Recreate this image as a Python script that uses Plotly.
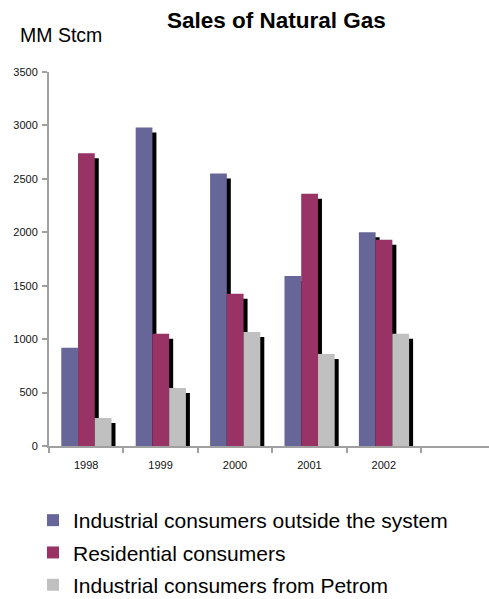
import plotly.graph_objects as go

# Sales of natural gas, MM Stcm
years = ["1998", "1999", "2000", "2001", "2002"]
industrial_outside = [920, 2980, 2550, 1590, 2000]
residential = [2740, 1050, 1425, 2360, 1930]
industrial_petrom = [262, 543, 1068, 862, 1050]

series_names = [
    "Industrial consumers outside the system",
    "Residential consumers",
    "Industrial consumers from Petrom",
]
series_values = [industrial_outside, residential, industrial_petrom]
series_colors = ["#666699", "#993366", "#C0C0C0"]

# figure geometry (px)
W, H = 489, 599
ML, MR, MT, MB = 49, 0, 72, 153
PLOT_W = W - ML - MR
PLOT_H = H - MT - MB
CAT_PX = 74.4          # width of one category slot
Y_MAX = 3500

x_hi = -0.5 + PLOT_W / CAT_PX
units_per_px_y = Y_MAX / PLOT_H

# bar placement inside each category slot (category units)
bar_offsets = [-0.335, -0.11, 0.115]
bar_width = 0.225

# drop shadow: shifted right and down by a few pixels
SHADOW_DX = 4 / CAT_PX
SHADOW_DY = 5 * units_per_px_y

xs = list(range(len(years)))

fig = go.Figure()
for name, vals, color, off in zip(series_names, series_values, series_colors, bar_offsets):
    fig.add_trace(go.Bar(
        x=xs, y=[v - SHADOW_DY for v in vals],
        offset=off + SHADOW_DX, width=bar_width,
        marker=dict(color="#000000", line=dict(width=0)),
        showlegend=False, legendgroup=name, hoverinfo="skip",
    ))
    fig.add_trace(go.Bar(
        x=xs, y=vals, name=name,
        offset=off, width=bar_width,
        marker=dict(color=color, line=dict(width=0)),
        legendgroup=name,
    ))

axis_gray = "#A0A0A0"
fig.update_layout(
    width=W, height=H,
    margin=dict(l=ML, r=MR, t=MT, b=MB, pad=0, autoexpand=False),
    barmode="overlay",
    plot_bgcolor="white", paper_bgcolor="white",
    font=dict(family="Liberation Sans, Arial, sans-serif", color="#000000"),
    xaxis=dict(
        range=[-0.5, x_hi], tickmode="array", tickvals=xs, ticktext=years,
        ticks="", showgrid=False, zeroline=False,
        showline=True, linecolor=axis_gray, linewidth=2,
        tickfont=dict(size=11, color="#111111"), ticklabelstandoff=8,
        minor=dict(tickmode="array", tickvals=[i - 0.5 for i in range(len(years) + 1)],
                   ticks="outside", ticklen=5, tickwidth=1.5, tickcolor=axis_gray),
        fixedrange=True,
    ),
    yaxis=dict(
        range=[0, Y_MAX], dtick=500, tick0=0,
        ticks="outside", ticklen=5, tickwidth=1.5, tickcolor=axis_gray,
        showgrid=False, zeroline=False,
        showline=True, linecolor=axis_gray, linewidth=2,
        tickfont=dict(size=11, color="#111111"), ticklabelstandoff=2,
        fixedrange=True,
    ),
    legend=dict(
        xref="container", yref="container",
        x=33 / W, xanchor="left", y=1 - 500 / H, yanchor="top",
        font=dict(size=21, color="#000000"),
        tracegroupgap=2, bgcolor="rgba(0,0,0,0)",
    ),
    annotations=[
        dict(text="<b>Sales of Natural Gas</b>", xref="paper", yref="paper",
             x=(276.5 - ML) / PLOT_W, y=1 + (MT - 20.5) / PLOT_H,
             xanchor="center", yanchor="middle", showarrow=False,
             font=dict(size=22.5, color="#000000")),
        dict(text="MM Stcm", xref="paper", yref="paper",
             x=(18 - ML) / PLOT_W, y=1 + (MT - 35) / PLOT_H,
             xanchor="left", yanchor="middle", showarrow=False,
             font=dict(size=19.5, color="#000000")),
    ],
)

fig.write_html("out.html")
